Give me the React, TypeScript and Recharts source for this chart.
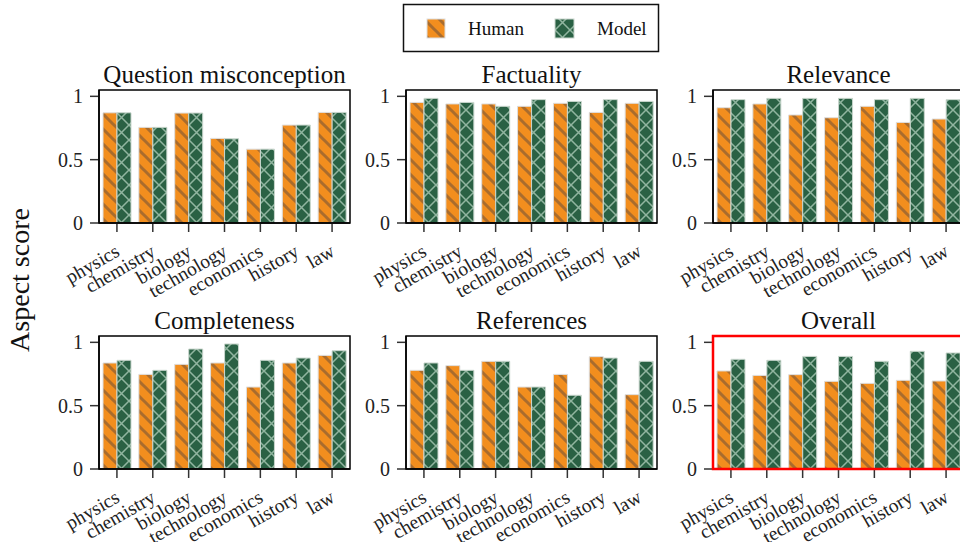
import React from "react";
import { BarChart, Bar, XAxis, YAxis } from "recharts";

const CATEGORIES = ["physics", "chemistry", "biology", "technology", "economics", "history", "law"];

const TITLES = ["Question misconception", "Factuality", "Relevance", "Completeness", "References", "Overall"];

const MISCONCEPTION_HUMAN = [0.87, 0.755, 0.868, 0.668, 0.583, 0.773, 0.873];
const MISCONCEPTION_MODEL = [0.87, 0.755, 0.868, 0.665, 0.583, 0.773, 0.873];
const FACTUALITY_HUMAN = [0.952, 0.94, 0.94, 0.921, 0.945, 0.873, 0.945];
const FACTUALITY_MODEL = [0.984, 0.952, 0.921, 0.974, 0.96, 0.974, 0.96];
const RELEVANCE_HUMAN = [0.91, 0.94, 0.853, 0.831, 0.921, 0.794, 0.821];
const RELEVANCE_MODEL = [0.974, 0.984, 0.984, 0.984, 0.974, 0.984, 0.974];
const COMPLETENESS_HUMAN = [0.837, 0.747, 0.826, 0.837, 0.647, 0.837, 0.897];
const COMPLETENESS_MODEL = [0.858, 0.779, 0.947, 0.987, 0.858, 0.876, 0.934];
const REFERENCES_HUMAN = [0.779, 0.816, 0.85, 0.647, 0.747, 0.887, 0.587];
const REFERENCES_MODEL = [0.837, 0.779, 0.85, 0.647, 0.582, 0.876, 0.85];
const OVERALL_HUMAN = [0.774, 0.739, 0.745, 0.692, 0.676, 0.7, 0.695];
const OVERALL_MODEL = [0.866, 0.858, 0.889, 0.889, 0.85, 0.929, 0.916];

const HUMAN_SERIES = [MISCONCEPTION_HUMAN, FACTUALITY_HUMAN, RELEVANCE_HUMAN, COMPLETENESS_HUMAN, REFERENCES_HUMAN, OVERALL_HUMAN];
const MODEL_SERIES = [MISCONCEPTION_MODEL, FACTUALITY_MODEL, RELEVANCE_MODEL, COMPLETENESS_MODEL, REFERENCES_MODEL, OVERALL_MODEL];
const Y_TICKS = [0, 0.5, 1];
const HIGHLIGHTED = "Overall";

const FONT = "'Liberation Serif', 'Times New Roman', serif";
const ORANGE = "#f28e1e";
const GREEN = "#2a6144";

// layout (px)
const COL_LEFT = [99, 406, 713];
const ROW_TOP = [90, 336];
const PLOT_W = 251;
const PLOT_H = 133;
const Y_W = 60;
const M_TOP = 40;
const X_H = 80;

function XTick(props: any) {
  const { x, y, payload } = props;
  const ax = x + 4;
  const ay = y + 21;
  return (
    <text
      x={ax}
      y={ay}
      transform={`rotate(-30, ${ax}, ${ay})`}
      textAnchor="end"
      fontSize={19.5}
      fontFamily={FONT}
      fill="#222"
    >
      {payload.value}
    </text>
  );
}

function Panel({ idx }: { idx: number }) {
  const left = COL_LEFT[idx % 3];
  const top = ROW_TOP[Math.floor(idx / 3)];
  const data = CATEGORIES.map((c, i) => ({
    subject: c,
    human: HUMAN_SERIES[idx][i],
    model: MODEL_SERIES[idx][i],
  }));

  return (
    <div style={{ position: "absolute", left: left - Y_W, top: top - M_TOP }}>
      <BarChart
        width={Y_W + PLOT_W + 10}
        height={M_TOP + PLOT_H + X_H}
        data={data}
        margin={{ top: M_TOP, right: 10, bottom: 0, left: 0 }}
        barGap={0}
      >
        <XAxis
          dataKey="subject"
          height={X_H}
          interval={0}
          axisLine={{ stroke: "#000", strokeWidth: 1.5 }}
          tickLine={{ stroke: "#333", strokeWidth: 1.5 }}
          tickSize={9}
          tick={<XTick />}
        />
        <YAxis
          width={Y_W}
          domain={[0, 1.05]}
          ticks={Y_TICKS}
          axisLine={{ stroke: "#000", strokeWidth: 1.5 }}
          tickLine={{ stroke: "#333", strokeWidth: 1.5 }}
          tickSize={9}
          tickMargin={7}
          tick={{ fontSize: 20, fontFamily: FONT, fill: "#222" }}
        />
        <Bar
          dataKey="human"
          barSize={14}
          fill="url(#humanHatch)"
          stroke="#dedede"
          strokeWidth={1}
          isAnimationActive={false}
        />
        <Bar
          dataKey="model"
          barSize={14}
          fill="url(#modelHatch)"
          stroke="#c9d6cd"
          strokeWidth={1}
          isAnimationActive={false}
        />
      </BarChart>
    </div>
  );
}

export default function App() {
  return (
    <div
      style={{
        position: "absolute",
        left: 0,
        top: 0,
        width: 960,
        height: 542,
        overflow: "hidden",
        background: "#fff",
        fontFamily: FONT,
      }}
    >
      {TITLES.map((t, i) => (
        <Panel key={t} idx={i} />
      ))}
      <svg
        width={960}
        height={542}
        style={{ position: "absolute", left: 0, top: 0, pointerEvents: "none" }}
      >
        <defs>
          <pattern id="humanHatch" patternUnits="userSpaceOnUse" width={15} height={15}>
            <rect width={15} height={15} fill={ORANGE} />
            <path
              d="M-2,-2 L17,17 M13,-2 L17,2 M-2,13 L2,17"
              stroke="#9c6630"
              strokeOpacity={0.85}
              strokeWidth={3}
            />
          </pattern>
          <pattern id="modelHatch" patternUnits="userSpaceOnUse" width={15} height={15}>
            <rect width={15} height={15} fill={GREEN} />
            <path
              d="M-2,-2 L17,17 M13,-2 L17,2 M-2,13 L2,17 M17,-2 L-2,17 M2,-2 L-2,2 M17,13 L13,17"
              stroke="#a4c4b0"
              strokeOpacity={0.85}
              strokeWidth={1.5}
            />
          </pattern>
        </defs>
        {TITLES.map((t, i) => {
          const hl = t === HIGHLIGHTED;
          const left = COL_LEFT[i % 3];
          const top = ROW_TOP[Math.floor(i / 3)];
          return (
            <g key={t}>
              <rect
                x={left}
                y={top}
                width={PLOT_W}
                height={PLOT_H}
                fill="none"
                stroke={hl ? "#ff0000" : "#000"}
                strokeWidth={hl ? 2.5 : 1.5}
              />
              <text
                x={left + PLOT_W / 2}
                y={top - 7}
                textAnchor="middle"
                fontSize={25}
                fontFamily={FONT}
                fill="#111"
              >
                {t}
              </text>
            </g>
          );
        })}
        <text
          x={29}
          y={280}
          transform="rotate(-90, 29, 280)"
          textAnchor="middle"
          fontSize={28}
          fontFamily={FONT}
          fill="#111"
        >
          Aspect score
        </text>
        <rect x={403.5} y={4.5} width={255} height={47} fill="#fff" stroke="#111" strokeWidth={1.5} />
        <rect x={427} y={19} width={18} height={19} fill="url(#humanHatch)" stroke="#dedede" strokeWidth={1} />
        <text x={468} y={35} fontSize={19} fontFamily={FONT} fill="#111">
          Human
        </text>
        <rect x={555} y={19} width={19} height={19} fill="url(#modelHatch)" stroke="#c9d6cd" strokeWidth={1} />
        <text x={597} y={35} fontSize={19} fontFamily={FONT} fill="#111">
          Model
        </text>
      </svg>
    </div>
  );
}
